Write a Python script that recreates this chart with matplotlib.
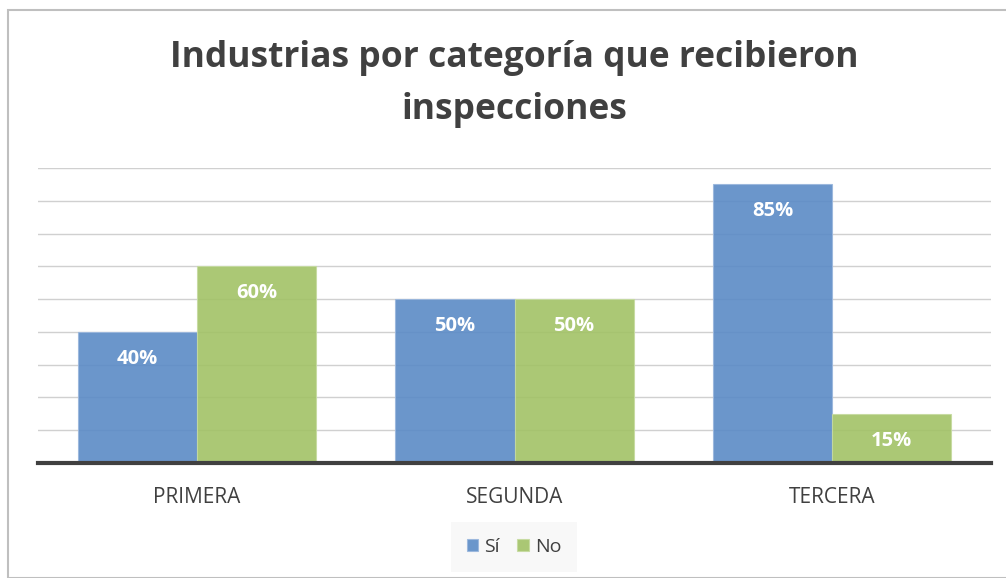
import matplotlib.pyplot as plt
import numpy as np
from matplotlib.patches import Rectangle

# -------------------------- Data --------------------------
categories = ["PRIMERA", "SEGUNDA", "TERCERA"]
si_values = [0.40, 0.50, 0.85]
no_values = [0.60, 0.50, 0.15]
series_names = ["Sí", "No"]
title = "Industrias por categoría que recibieron\ninspecciones"

# -------------------------- Style --------------------------
plt.rcParams['font.family'] = ['Open Sans', 'DejaVu Sans']
blue = "#5b8bc6"
green = "#a2c266"
text_color = "#404040"

fig = plt.figure(figsize=(10.06, 5.78), dpi=100)

# outer chart border
fig.patches.append(Rectangle((8 / 1006, 0), 1.1, 1 - 10 / 578, transform=fig.transFigure,
                             fill=False, edgecolor="#bfbfbf", linewidth=1.5))

ax = fig.add_axes([38 / 1006, 1 - 463 / 578, (991 - 38) / 1006, (463 - 168) / 578])

x = np.arange(len(categories))
width = 0.375
bars_si = ax.bar(x - width / 2, si_values, width, color=blue, alpha=0.9,
                 edgecolor="#9ab7dd", linewidth=0.8, label=series_names[0], zorder=2)
bars_no = ax.bar(x + width / 2, no_values, width, color=green, alpha=0.9,
                 edgecolor="#c6dba0", linewidth=0.8, label=series_names[1], zorder=2)

# data labels inside the top of each bar
for bars in (bars_si, bars_no):
    for b in bars:
        h = b.get_height()
        ax.annotate(f"{h * 100:.0f}%", (b.get_x() + b.get_width() / 2, h),
                    xytext=(0, -27), textcoords="offset pixels",
                    ha="center", va="center", color="white", fontsize=14.5,
                    fontweight="bold", zorder=3)

ax.set_xlim(-0.5, 2.5)
ax.set_ylim(0, 0.9)
ax.set_yticks(np.arange(0.1, 0.91, 0.1))
ax.yaxis.grid(True, color="#d0d0d0", linewidth=1)
ax.set_axisbelow(True)
ax.tick_params(axis="y", left=False, labelleft=False)
ax.tick_params(axis="x", bottom=False, pad=14, labelsize=15, labelcolor=text_color)
ax.set_xticks(x)
ax.set_xticklabels(categories)
for side in ("top", "right", "left"):
    ax.spines[side].set_visible(False)
ax.spines["bottom"].set_color(text_color)
ax.spines["bottom"].set_linewidth(3)
ax.spines["bottom"].set_zorder(4)

fig.text(514 / 1006, 1 - 84 / 578, title, ha="center", va="center", fontsize=25.5,
         fontweight="bold", color=text_color, linespacing=1.6)

leg = fig.legend(loc="center", bbox_to_anchor=(514 / 1006, 1 - 547 / 578), ncol=2,
                 frameon=True, fontsize=14, handlelength=0.6, handleheight=0.6,
                 handletextpad=0.3, columnspacing=0.9, borderpad=0.5)
leg.get_frame().set_facecolor("#f7f7f7")
leg.get_frame().set_edgecolor("none")
leg.get_frame().set_boxstyle("square")
for t in leg.get_texts():
    t.set_color(text_color)

fig.savefig("out.png", dpi=100)
